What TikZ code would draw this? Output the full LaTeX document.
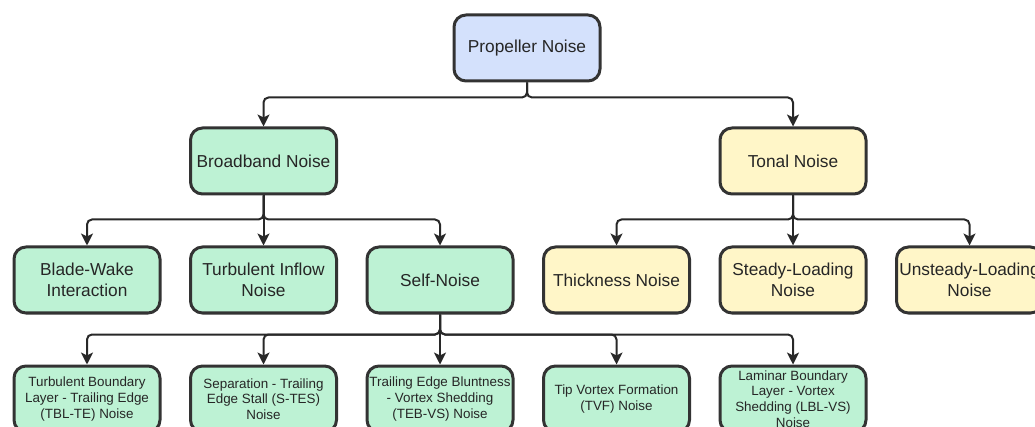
\documentclass[tikz,border=0pt]{standalone}
\usepackage{fontspec}
\setmainfont{Liberation Sans}
\usepackage{tikz}
\usetikzlibrary{arrows.meta,positioning}
\definecolor{rootblue}{RGB}{212, 225, 252}
\definecolor{leafgreen}{RGB}{189, 242, 212}
\definecolor{tonalyellow}{RGB}{255, 246, 200}
\definecolor{edgegray}{RGB}{51, 51, 51}
\definecolor{linegray}{RGB}{40, 40, 40}
\tikzset{
 noisebox/.style={
 rectangle,
 rounded corners=12pt,
 draw=edgegray,
 line width=3pt,
 align=center,
 minimum width=146pt,
 minimum height=66pt,
 inner sep=0pt,
 text=black!85,
 font=\fontsize{17.3}{20.5}\selectfont
 },
 rootbox/.style={noisebox, fill=rootblue},
 broadbox/.style={noisebox, fill=leafgreen},
 tonalbox/.style={noisebox, fill=tonalyellow},
 selfbox/.style={broadbox, font=\fontsize{13.4}{15.6}\selectfont},
 linkarrow/.style={-{Stealth[length=12pt,width=12pt,inset=3pt]}, line width=2pt, draw=linegray, rounded corners=5pt}
}

\begin{document}
\begin{tikzpicture}[x=1pt, y=1pt, node distance=50pt and 27.5pt]
 \useasboundingbox (0,0) rectangle (1035,-427);
 \node[broadbox] (bwake) at (87,-280) {Blade-Wake\\Interaction};
 \node[broadbox, right=of bwake] (tinflow) {Turbulent Inflow\\Noise};
 \node[broadbox, right=of tinflow] (selfn) {Self-Noise};
 \node[tonalbox, right=of selfn] (thick) {Thickness Noise};
 \node[tonalbox, right=of thick] (steady) {Steady-Loading\\Noise};
 \node[tonalbox, right=of steady] (unsteady) {Unsteady-Loading\\Noise};

 \node[broadbox, above=of tinflow] (broad) {Broadband Noise};
 \node[tonalbox, above=of steady] (tonal) {Tonal Noise};
 \node[rootbox] (prop) at (527,-48) {Propeller Noise};

 \node[selfbox, below=of bwake] (tblte) {Turbulent Boundary\\Layer - Trailing Edge\\(TBL-TE) Noise};
 \node[selfbox, below=of tinflow] (stes) {Separation - Trailing\\Edge Stall (S-TES)\\Noise};
 \node[selfbox, below=of selfn] (tebvs) {Trailing Edge Bluntness\\- Vortex Shedding\\(TEB-VS) Noise};
 \node[selfbox, below=of thick] (tvf) {Tip Vortex Formation\\(TVF) Noise};
 \node[selfbox, below=of steady] (lblvs) {Laminar Boundary\\Layer - Vortex\\Shedding (LBL-VS)\\Noise};

 \draw[linkarrow] (prop.south) -- ++(0,-15) -| (broad.north);
 \draw[linkarrow] (prop.south) -- ++(0,-15) -| (tonal.north);

 \foreach \child in {bwake, tinflow, selfn}
 \draw[linkarrow] (broad.south) -- ++(0,-24) -| (\child.north);
 \foreach \child in {thick, steady, unsteady}
 \draw[linkarrow] (tonal.south) -- ++(0,-24) -| (\child.north);
 \foreach \child in {tblte, stes, tebvs, tvf, lblvs}
 \draw[linkarrow] (selfn.south) -- ++(0,-20) -| (\child.north);
\end{tikzpicture}
\end{document}
